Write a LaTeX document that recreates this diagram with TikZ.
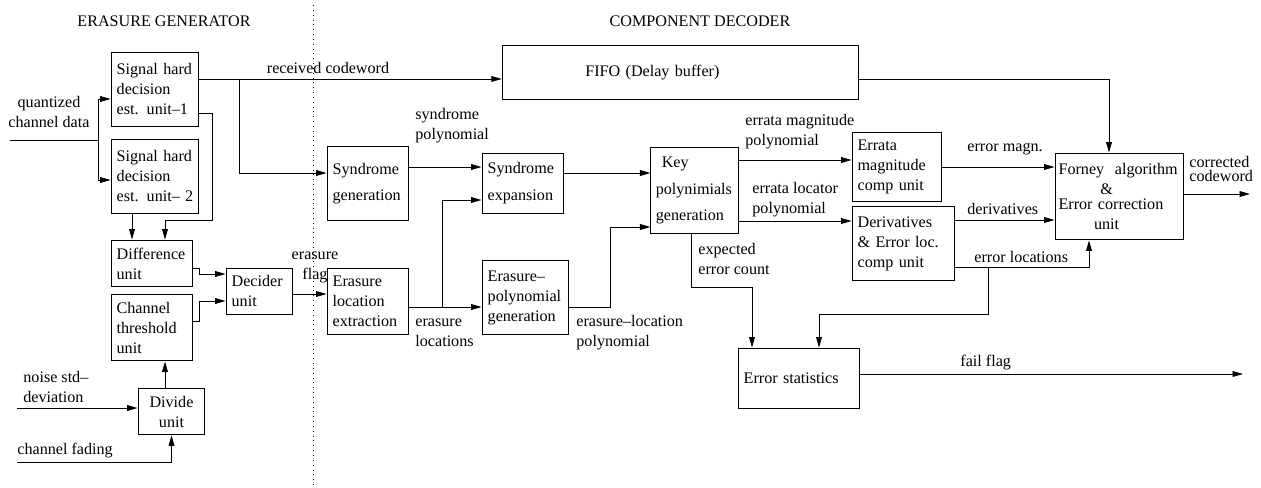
\documentclass[tikz,border=0pt]{standalone}
\usepackage{fontspec}
\setmainfont{Liberation Serif}
\usetikzlibrary{arrows.meta}

\begin{document}
\begin{tikzpicture}[
    x=0.62pt, y=-0.62pt,
    blk/.style={
        draw, line width=0.6pt, align=left,
        inner xsep=3.5pt, inner ysep=0pt,
        font=\fontsize{10}{12.4}\selectfont
    },
    wide/.style={font=\fontsize{10}{16.5}\selectfont},
    lbl/.style={align=left, inner sep=0pt, font=\fontsize{10}{12.4}\selectfont},
    >={Triangle[length=6.5pt, width=3.6pt]}, line width=0.5pt
]
\useasboundingbox (0,0) rectangle (1261,487);

% section titles and divider
\node[lbl] (tgen) at (164,21) {ERASURE GENERATOR};
\node[lbl] (tdec) at (700,21) {COMPONENT DECODER};
\coordinate (septop) at (313,5);
\coordinate (sepbot) at (313,487);
\draw[line width=0.6pt, dash pattern=on 0.6pt off 2.4pt] (septop) -- (sepbot);

% erasure generator
\node[blk, text width=47.5pt, minimum height=45.9pt] (sh1) at (155,89) {Signal hard\\decision\\est. unit--1};
\node[blk, text width=47.5pt, minimum height=45.9pt] (sh2) at (155,176) {Signal hard\\decision\\est. unit--~2};
\node[blk, text width=43.2pt, minimum height=29.1pt] (diff) at (151.5,263.5) {Difference\\unit};
\node[blk, text width=43.2pt, minimum height=41.5pt] (thr) at (151.5,327.5) {Channel\\threshold\\unit};
\node[blk, text width=34.5pt, minimum height=28.5pt] (dec) at (259.5,291) {Decider\\unit};
\node[blk, text width=34.5pt, minimum height=29.1pt, align=center] (div) at (171.5,411.5) {Divide\\unit};

% component decoder
\node[blk, text width=214pt, minimum height=32.9pt] (fifo) at (680.5,72.5) {\hspace*{48pt}FIFO (Delay buffer)};
\node[blk, wide, text width=43.2pt, minimum height=45.3pt] (sgen) at (367.5,183.5) {Syndrome\\generation};
\node[blk, wide, text width=43.2pt, minimum height=37.2pt] (sexp) at (522.5,183) {Syndrome\\expansion};
\node[blk, text width=43.2pt, minimum height=40.9pt] (ele) at (367.5,301) {Erasure\\location\\extraction};
\node[blk, text width=46.9pt, minimum height=45.3pt] (epg) at (525.5,297.5) {Erasure--\\polynomial\\generation};
\node[blk, wide, text width=48pt, inner xsep=3pt, minimum height=53.9pt] (key) at (694.5,190.5) {\hspace*{3.7pt}Key\\polynimials\\generation};
\node[blk, text width=48.2pt, minimum height=42.2pt] (emag) at (896.5,167) {Errata\\magnitude\\comp unit};
\node[blk, text width=56.2pt, minimum height=45.3pt] (deriv) at (903,243.5) {Derivatives\\\& Error loc.\\comp unit};
\node[blk, text width=72.4pt, minimum height=37.2pt, text width=68pt] (estat) at (798.5,378) {Error statistics};
\node[blk, text width=75pt, inner xsep=2.2pt, minimum height=53.9pt] (forney) at (1119,196.5) {\mbox{Forney~~algorithm}\\\hspace*{26pt}\&\\[-3pt]Error correction\\\hspace*{22pt}unit};

% labels
\node[lbl, align=center] (lqin) at (49,112) {quantized\\channel data};
\node[lbl] (lrcw) at (328,68) {received codeword};
\node[lbl, align=center] (lflag) at (315,267) {erasure\\flag};
\node[lbl, anchor=west] (lnoise) at (23,387) {noise std--\\deviation};
\node[lbl, anchor=west] (lfade) at (17,451) {channel fading};
\node[lbl, anchor=west] (lsyn) at (415,126) {syndrome\\polynomial};
\node[lbl, anchor=west] (lerl) at (415,333) {erasure\\locations};
\node[lbl, anchor=west] (lelp) at (576,333) {erasure--location\\polynomial};
\node[lbl, anchor=west] (lemp) at (745,132) {errata magnitude\\polynomial};
\node[lbl, anchor=west] (lelo) at (752,200) {errata locator\\polynomial};
\node[lbl, anchor=west] (lexp) at (698,259) {expected\\error count};
\node[lbl, anchor=west] (lmag) at (967,149) {error magn.};
\node[lbl, anchor=west] (lder) at (967,209) {derivatives};
\node[lbl, anchor=west] (lloc) at (974,257) {error locations};
\node[lbl, anchor=west] (lcw) at (1189,169) {corrected\\[-4pt]codeword};
\node[lbl, anchor=west] (lfail) at (960,363) {fail flag};

% generator connections
\coordinate (qin) at (10,140);
\coordinate (qsp) at (98,140);
\draw (qin) -- (qsp);
\draw[->] (qsp) |- (sh1.west |- 0,99);
\draw[->] (qsp) |- (sh2.west |- 0,180);
\draw[->] (sh1.east |- 0,113) -| (212,220) -| (diff.north -| 165,0);
\draw[->] (sh2.south -| 132,0) -- (diff.north -| 132,0);
\draw[->] (diff.east |- 0,268) -| (199,274) -- (dec.west |- 0,274);
\draw[->] (thr.east |- 0,321) -| (199,301) -- (dec.west |- 0,301);
\draw[->] (div.north -| 165,0) -- (thr.south -| 165,0);
\coordinate (nin) at (17,408);
\draw[->] (nin) -- (div.west |- nin);
\coordinate (fin) at (17,462);
\draw[->] (fin) -| (div.south);
\draw[->] (dec.east |- 0,294) -- (ele.west |- 0,294);

% decoder connections
\draw[->] (sh1.east |- 0,79) -- (fifo.west |- 0,79);
\coordinate (rcb) at (239,79);
\draw[->] (rcb) |- (sgen.west |- 0,173);
\draw[->] (sgen.east |- 0,167) -- (sexp.west |- 0,167);
\draw[->] (ele.east |- 0,307) -- (epg.west |- 0,307);
\coordinate (elb) at (442,307);
\draw[->] (elb) |- (sexp.west |- 0,200);
\draw[->] (epg.east |- 0,307) -| (610,227) -- (key.west |- 0,227);
\draw[->] (sexp.east |- 0,173) -- (key.west |- 0,173);
\draw[->] (key.east |- 0,160) -- (emag.west |- 0,160);
\draw[->] (key.east |- 0,221) -- (deriv.west |- 0,221);
\draw[->] (key.south -| 691,0) |- (752,287) -- (estat.north -| 752,0);
\draw[->] (fifo.east |- 0,79) -| (forney.north -| 1109,0);
\draw[->] (emag.east |- 0,167) -- (forney.west |- 0,167);
\draw[->] (deriv.east |- 0,220) -- (forney.west |- 0,220);
\draw[->] (deriv.east |- 0,267) -| (forney.south -| 1089,0);
\coordinate (elc) at (988,267);
\draw[->] (elc) |- (819,314) -- (estat.north -| 819,0);
\coordinate (cwout) at (1250,194);
\draw[->] (forney.east |- cwout) -- (cwout);
\coordinate (ffout) at (1243,374);
\draw[->] (estat.east |- ffout) -- (ffout);

\end{tikzpicture}
\end{document}
